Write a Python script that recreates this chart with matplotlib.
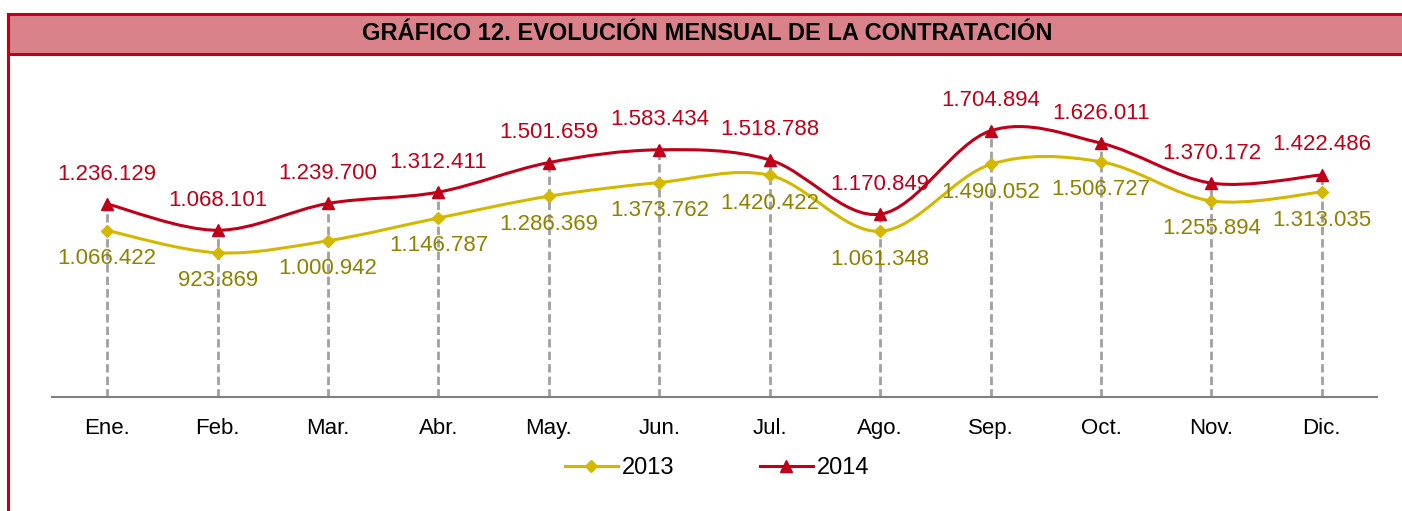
import numpy as np
import matplotlib.pyplot as plt
from matplotlib.path import Path
from matplotlib.patches import PathPatch, Rectangle
from matplotlib.lines import Line2D

plt.rcParams['font.family'] = ['Liberation Sans', 'DejaVu Sans']

# datos
meses = ["Ene.", "Feb.", "Mar.", "Abr.", "May.", "Jun.",
         "Jul.", "Ago.", "Sep.", "Oct.", "Nov.", "Dic."]
v2013 = [1066422, 923869, 1000942, 1146787, 1286369, 1373762,
         1420422, 1061348, 1490052, 1506727, 1255894, 1313035]
v2014 = [1236129, 1068101, 1239700, 1312411, 1501659, 1583434,
         1518788, 1170849, 1704894, 1626011, 1370172, 1422486]


def fmt(v):
    return f"{v:,}".replace(",", ".")


def smooth_path(xs, ys):
    # curva suavizada tipo Excel (bezier cubica)
    pts = np.column_stack([xs, ys]).astype(float)
    n = len(pts)
    verts = [pts[0]]
    codes = [Path.MOVETO]
    for i in range(n - 1):
        p0 = pts[max(i - 1, 0)]
        p1 = pts[i]
        p2 = pts[i + 1]
        p3 = pts[min(i + 2, n - 1)]
        c1 = p1 + (p2 - p0) / 6.0
        c2 = p2 - (p3 - p1) / 6.0
        verts += [c1, c2, p2]
        codes += [Path.CURVE4] * 3
    return Path(verts, codes)


red = "#C00018"
gold = "#D4B800"
olive = "#8F8200"

fig = plt.figure(figsize=(14.02, 5.11), dpi=100)
W, H = 1402, 511

# cabecera
fig.add_artist(Rectangle((8 / W, 1 - 54 / H), 1.2, 40 / H, transform=fig.transFigure,
                         facecolor="#D9828A", edgecolor=red, linewidth=2.2))
fig.add_artist(Line2D([8 / W, 8 / W], [0, 1 - 14 / H], transform=fig.transFigure,
                      color=red, linewidth=2.2))
fig.text(707 / W, 1 - 34 / H, "GRÁFICO 12. EVOLUCIÓN MENSUAL DE LA CONTRATACIÓN",
         ha="center", va="center", fontsize=17, fontweight="bold", color="black")

ax = fig.add_axes([52 / W, 1 - 397 / H, 1325 / W, 281 / H])
x = np.arange(len(meses))

# lineas de proyeccion
top = np.maximum(v2013, v2014)
ax.vlines(x, 0, top, colors="#A0A0A0", linestyles=(0, (3, 1.5)), linewidth=2, zorder=1)

ax.add_patch(PathPatch(smooth_path(x, v2013), facecolor="none", edgecolor=gold,
                       linewidth=2.2, zorder=2))
ax.add_patch(PathPatch(smooth_path(x, v2014), facecolor="none", edgecolor=red,
                       linewidth=2.2, zorder=2))
ax.plot(x, v2013, linestyle="none", marker="D", markersize=6.5, color=gold, zorder=3)
ax.plot(x, v2014, linestyle="none", marker="^", markersize=9, color=red, zorder=3)

for xi, a, b in zip(x, v2013, v2014):
    ax.annotate(fmt(b), (xi, b), xytext=(0, 30), textcoords="offset pixels",
                ha="center", va="center", fontsize=16, color=red)
    ax.annotate(fmt(a), (xi, a), xytext=(0, -28), textcoords="offset pixels",
                ha="center", va="center", fontsize=16, color=olive)

ax.set_xlim(-0.5, 11.5)
ax.set_ylim(0, 1800000)
ax.set_xticks(x)
ax.set_xticklabels(meses, fontsize=16)
ax.tick_params(axis="x", length=0, pad=15)
ax.set_yticks([])
for s in ["top", "right", "left"]:
    ax.spines[s].set_visible(False)
ax.spines["bottom"].set_color("#808080")
ax.spines["bottom"].set_linewidth(1.5)
ax.patch.set_alpha(0)

handles = [Line2D([], [], color=gold, marker="D", markersize=6.5, linewidth=2.2),
           Line2D([], [], color=red, marker="^", markersize=9, linewidth=2.2)]
fig.legend(handles, ["2013", "2014"], loc="center", bbox_to_anchor=(717 / W, 1 - 468 / H),
           ncol=2, frameon=False, fontsize=17, columnspacing=3.6, handlelength=2.25,
           handletextpad=0.17)

fig.savefig("out.png", dpi=100)
